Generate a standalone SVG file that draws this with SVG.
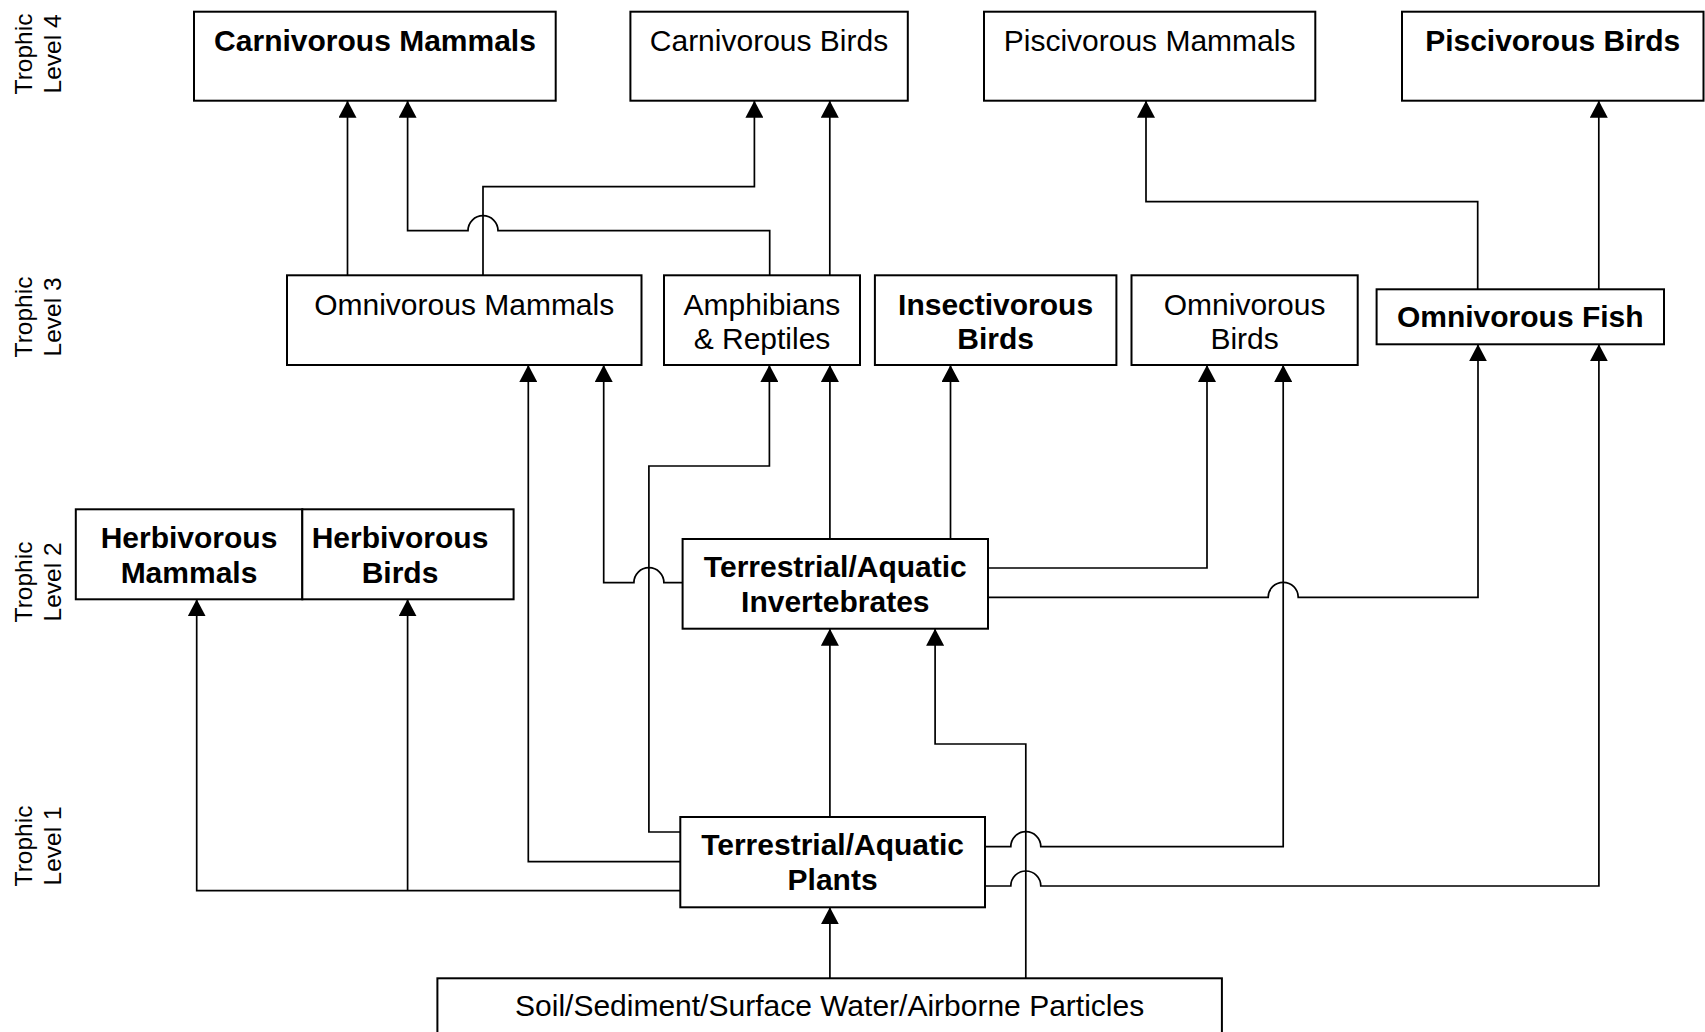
<svg xmlns="http://www.w3.org/2000/svg" width="1705" height="1032" viewBox="0 0 1705 1032">
<style>
.box{fill:#fff;stroke:#000;stroke-width:2}
.t{font-family:"Liberation Sans",Arial,sans-serif;font-size:30px;fill:#000;text-anchor:middle}
.b{font-weight:bold}
.lvl{font-family:"Liberation Sans",Arial,sans-serif;font-size:24.5px;fill:#000;text-anchor:middle}
.c{fill:none;stroke:#000;stroke-width:1.7;marker-end:url(#ah)}
</style>
<defs>
<marker id="ah" markerUnits="userSpaceOnUse" viewBox="0 0 17 18" markerWidth="17" markerHeight="18" refX="17" refY="9" orient="auto">
<path d="M0,0 L17,9 L0,18 Z" fill="#000"/>
</marker>
</defs>
<rect width="1705" height="1032" fill="#fff"/>

<g id="labels">
<g transform="translate(31.5,54) rotate(-90)"><text class="lvl" x="0" y="0">Trophic</text><text class="lvl" x="0" y="29">Level 4</text></g>
<g transform="translate(31.5,317) rotate(-90)"><text class="lvl" x="0" y="0">Trophic</text><text class="lvl" x="0" y="29">Level 3</text></g>
<g transform="translate(31.5,582) rotate(-90)"><text class="lvl" x="0" y="0">Trophic</text><text class="lvl" x="0" y="29">Level 2</text></g>
<g transform="translate(31.5,846) rotate(-90)"><text class="lvl" x="0" y="0">Trophic</text><text class="lvl" x="0" y="29">Level 1</text></g>
</g>

<g id="connectors">
<path class="c" d="M347.5,275.3 V100.7"/>
<path class="c" d="M769.7,275.3 V230.7 H498 A15,15 0 0 0 468,230.7 H407.6 V100.7"/>
<path class="c" d="M483,275.3 V186.7 H754.4 V100.7"/>
<path class="c" d="M829.8,275.3 V100.7"/>
<path class="c" d="M1477.7,289.3 V201.7 H1146 V100.7"/>
<path class="c" d="M1598.8,289.3 V100.7"/>
<path class="c" d="M680.3,861.7 H528.3 V365"/>
<path class="c" d="M682.6,582.7 H663.9 A15,15 0 0 0 633.9,582.7 H603.7 V365"/>
<path class="c" d="M680.3,832 H648.9 V466 H769.4 V365"/>
<path class="c" d="M829.9,539 V365"/>
<path class="c" d="M950.5,539 V365"/>
<path class="c" d="M988,568 H1207 V365"/>
<path class="c" d="M985,846.7 H1010.8 A15,15 0 0 1 1040.8,846.7 H1283.2 V365"/>
<path class="c" d="M988,597.3 H1268.2 A15,15 0 0 1 1298.2,597.3 H1478 V344.3"/>
<path class="c" d="M985,886 H1010.8 A15,15 0 0 1 1040.8,886 H1598.9 V344.3"/>
<path class="c" d="M680.3,890.7 H196.7 V599.3"/>
<path class="c" d="M407.6,890.7 V599.3"/>
<path class="c" d="M829.9,817 V628.7"/>
<path class="c" d="M1025.8,978.3 V744 H935.1 V628.7"/>
<path class="c" d="M829.9,978.3 V907.3"/>
</g>

<g id="carnivorous-mammals"><rect class="box" x="194" y="11.7" width="361.7" height="89"/><text class="t b" x="375" y="51">Carnivorous Mammals</text></g>
<g id="carnivorous-birds"><rect class="box" x="630.4" y="11.7" width="277.4" height="89"/><text class="t" x="769" y="51">Carnivorous Birds</text></g>
<g id="piscivorous-mammals"><rect class="box" x="984" y="11.7" width="331.3" height="89"/><text class="t" x="1149.6" y="51">Piscivorous Mammals</text></g>
<g id="piscivorous-birds"><rect class="box" x="1402" y="11.7" width="301.5" height="89"/><text class="t b" x="1552.7" y="51">Piscivorous Birds</text></g>

<g id="omnivorous-mammals"><rect class="box" x="287" y="275.3" width="354.5" height="89.7"/><text class="t" x="464.2" y="315">Omnivorous Mammals</text></g>
<g id="amphibians-reptiles"><rect class="box" x="664" y="275.3" width="196" height="89.7"/><text class="t" x="762" y="315">Amphibians</text><text class="t" x="762" y="348.5">&amp; Reptiles</text></g>
<g id="insectivorous-birds"><rect class="box" x="874.9" y="275.3" width="241.5" height="89.7"/><text class="t b" x="995.6" y="315">Insectivorous</text><text class="t b" x="995.6" y="348.5">Birds</text></g>
<g id="omnivorous-birds"><rect class="box" x="1131.5" y="275.3" width="226.2" height="89.7"/><text class="t" x="1244.6" y="315">Omnivorous</text><text class="t" x="1244.6" y="348.5">Birds</text></g>
<g id="omnivorous-fish"><rect class="box" x="1376.6" y="289.3" width="287.4" height="55"/><text class="t b" x="1520.3" y="326.7">Omnivorous Fish</text></g>

<g id="herbivorous-mammals"><rect class="box" x="75.8" y="509.3" width="226.5" height="90"/><text class="t b" x="189" y="547.5">Herbivorous</text><text class="t b" x="189" y="582.5">Mammals</text></g>
<g id="herbivorous-birds"><rect class="box" x="302.3" y="509.3" width="211.3" height="90"/><text class="t b" x="400" y="547.5">Herbivorous</text><text class="t b" x="400" y="582.5">Birds</text></g>
<g id="invertebrates"><rect class="box" x="682.6" y="539" width="305.4" height="89.7"/><text class="t b" x="835.3" y="577.3">Terrestrial/Aquatic</text><text class="t b" x="835.3" y="612.3">Invertebrates</text></g>

<g id="plants"><rect class="box" x="680.3" y="817" width="304.7" height="90.3"/><text class="t b" x="832.6" y="855">Terrestrial/Aquatic</text><text class="t b" x="832.6" y="890">Plants</text></g>

<g id="soil"><rect class="box" x="437.4" y="978.3" width="784.5" height="70"/><text class="t" x="829.6" y="1016">Soil/Sediment/Surface Water/Airborne Particles</text></g>
</svg>
